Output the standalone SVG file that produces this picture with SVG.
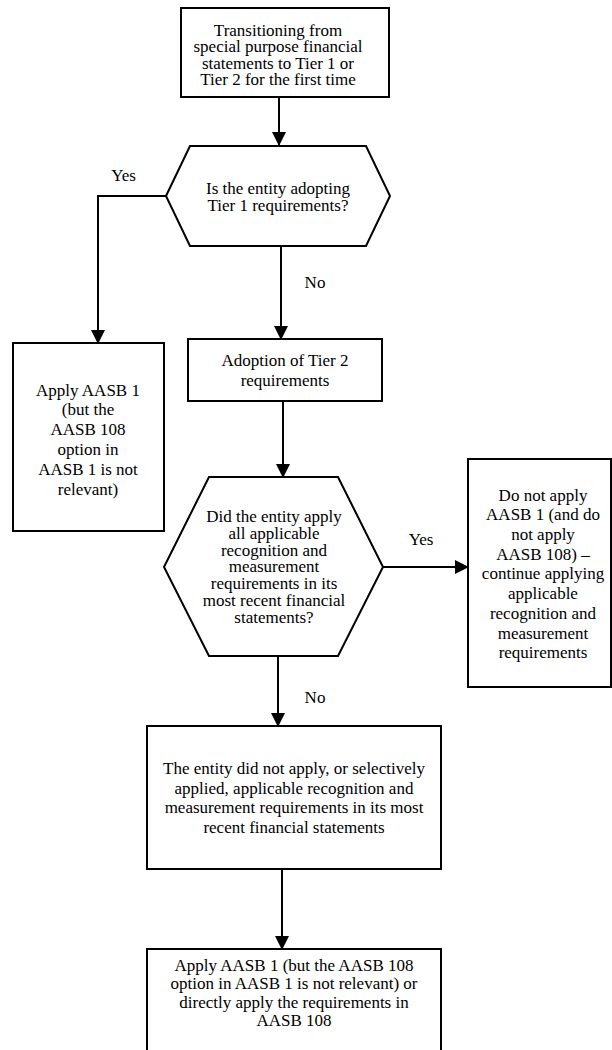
<svg xmlns="http://www.w3.org/2000/svg" width="612" height="1050" viewBox="0 0 612 1050">
<style>
.n{fill:#fff;stroke:#000;stroke-width:2}
.t{font-family:"Liberation Serif","Times New Roman",serif;font-size:17px;fill:#000;text-anchor:middle}
.c{fill:none;stroke:#000;stroke-width:2}
</style>
<defs>
<marker id="ah" viewBox="0 0 14 14" refX="13" refY="7" markerWidth="14" markerHeight="14" markerUnits="userSpaceOnUse" orient="auto">
<path d="M0,0 L14,7 L0,14 Z" fill="#000"/>
</marker>
</defs>
<rect width="612" height="1050" fill="#fff"/>
<g id="connectors">
<path class="c" d="M279,97 V145" marker-end="url(#ah)"/>
<path class="c" d="M166,196 H98 V343" marker-end="url(#ah)"/>
<path class="c" d="M281,246 V339" marker-end="url(#ah)"/>
<path class="c" d="M283,401 V477" marker-end="url(#ah)"/>
<path class="c" d="M383,567 H468" marker-end="url(#ah)"/>
<path class="c" d="M278,656 V726" marker-end="url(#ah)"/>
<path class="c" d="M282,869 V949" marker-end="url(#ah)"/>
<text class="t" x="123.5" y="181">Yes</text>
<text class="t" x="315" y="288">No</text>
<text class="t" x="421" y="545">Yes</text>
<text class="t" x="315" y="703">No</text>
</g>
<g id="start">
<rect class="n" x="181" y="8" width="208" height="89"/>
<text class="t" x="278"><tspan x="278" y="36">Transitioning from</tspan><tspan x="278" y="52.3">special purpose financial</tspan><tspan x="278" y="68.6">statements to Tier 1 or</tspan><tspan x="278" y="84.9">Tier 2 for the first time</tspan></text>
</g>
<g id="q1">
<polygon class="n" points="166,196 190,146 366,146 390,196 366,246 190,246"/>
<text class="t"><tspan x="278" y="194">Is the entity adopting</tspan><tspan x="278" y="210.7">Tier 1 requirements?</tspan></text>
</g>
<g id="apply1">
<rect class="n" x="13" y="343" width="151" height="188"/>
<text class="t"><tspan x="88" y="395.6">Apply AASB 1</tspan><tspan x="88" y="415.4">(but the</tspan><tspan x="88" y="435.2">AASB 108</tspan><tspan x="88" y="455">option in</tspan><tspan x="88" y="474.8">AASB 1 is not</tspan><tspan x="88" y="494.6">relevant)</tspan></text>
</g>
<g id="tier2">
<rect class="n" x="188" y="339" width="194" height="62"/>
<text class="t"><tspan x="285" y="365.5">Adoption of Tier 2</tspan><tspan x="285" y="385.5">requirements</tspan></text>
</g>
<g id="q2">
<polygon class="n" points="164,567 209,477 338,477 383,567 338,656 209,656"/>
<text class="t"><tspan x="274" y="522">Did the entity apply</tspan><tspan x="274" y="538.8">all applicable</tspan><tspan x="274" y="555.6">recognition and</tspan><tspan x="274" y="572.4">measurement</tspan><tspan x="274" y="589.2">requirements in its</tspan><tspan x="274" y="606">most recent financial</tspan><tspan x="274" y="622.8">statements?</tspan></text>
</g>
<g id="noapply">
<rect class="n" x="468" y="459" width="143" height="228"/>
<text class="t"><tspan x="543" y="500.6">Do not apply</tspan><tspan x="543" y="520.3">AASB 1 (and do</tspan><tspan x="543" y="540">not apply</tspan><tspan x="543" y="559.7">AASB 108) –</tspan><tspan x="543" y="579.4">continue applying</tspan><tspan x="543" y="599.1">applicable</tspan><tspan x="543" y="618.8">recognition and</tspan><tspan x="543" y="638.5">measurement</tspan><tspan x="543" y="658.2">requirements</tspan></text>
</g>
<g id="selective">
<rect class="n" x="147" y="726" width="294" height="143"/>
<text class="t"><tspan x="294" y="774">The entity did not apply, or selectively</tspan><tspan x="294" y="793.5">applied, applicable recognition and</tspan><tspan x="294" y="813">measurement requirements in its most</tspan><tspan x="294" y="832.5">recent financial statements</tspan></text>
</g>
<g id="final">
<rect class="n" x="147" y="949" width="294" height="110"/>
<text class="t"><tspan x="294" y="970.5">Apply AASB 1 (but the AASB 108</tspan><tspan x="294" y="989">option in AASB 1 is not relevant) or</tspan><tspan x="294" y="1007.5">directly apply the requirements in</tspan><tspan x="294" y="1026">AASB 108</tspan></text>
</g>
</svg>
